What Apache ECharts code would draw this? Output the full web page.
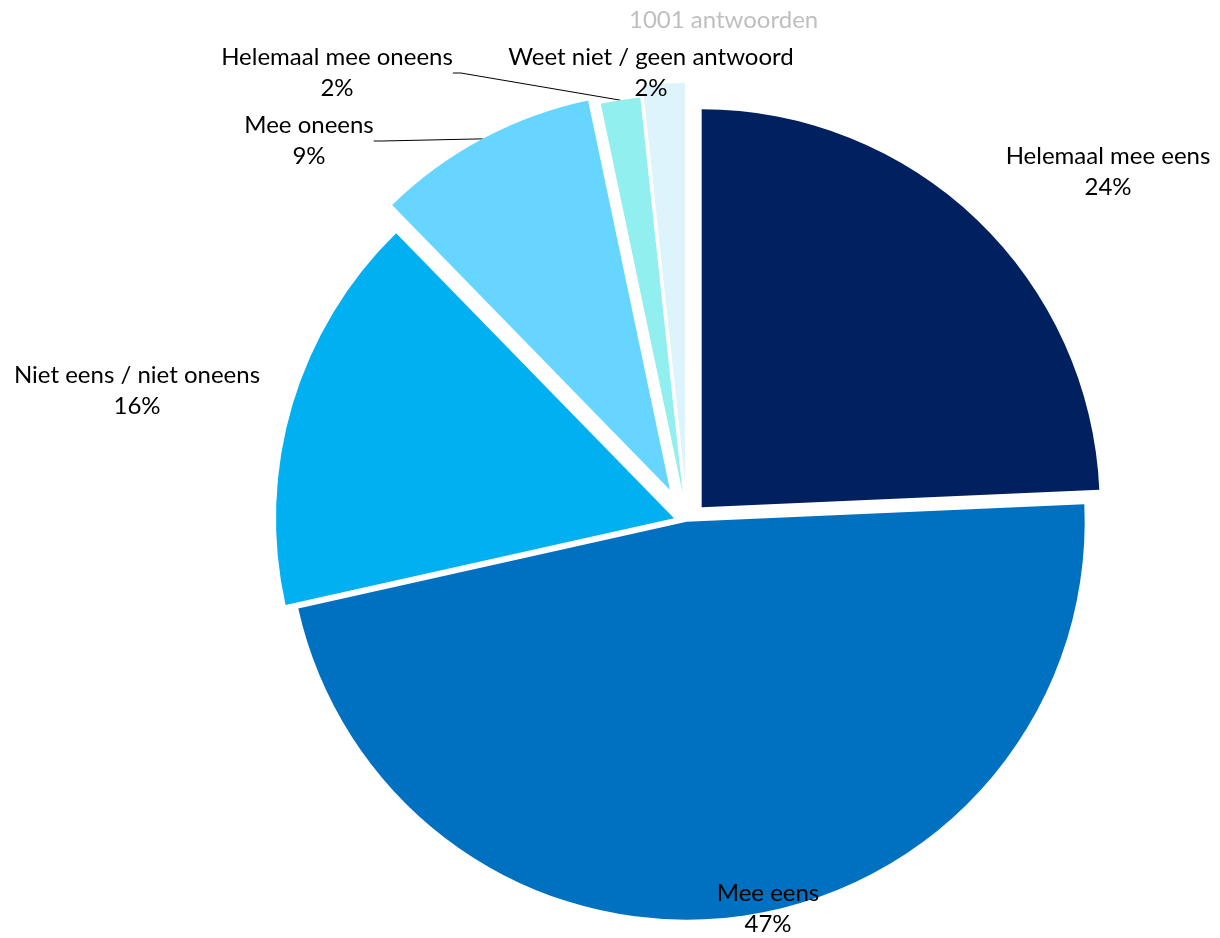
<!DOCTYPE html>
<html><head><meta charset="utf-8">
<script src="https://cdn.jsdelivr.net/npm/echarts@6/dist/echarts.min.js"></script>
<style>html,body{margin:0;padding:0;background:#fff}#c{width:1220px;height:938px}</style>
</head><body><div id="c"></div>
<script>
const categories = ['Helemaal mee eens','Mee eens','Niet eens / niet oneens','Mee oneens','Helemaal mee oneens','Weet niet / geen antwoord'];
const values = [24.3, 47.2, 16.2, 9.0, 1.6, 1.7];
const titleText = '1001 antwoorden';

// styling / layout (not data)
const colors = ['#002060','#0070C0','#00B0F0','#66D5FF','#92EFEF','#DEF4FD'];
const sliceCenters = [[701.7,507.3],[686.7,521.7],[674,518.3],[670,490],[682.7,493.3],[685,481]];
const labelPos = [[1108,172],[768,909],[137,391],[309,141],[337,73],[651,73]];
const showLine = [false,false,false,true,true,false];
const R = 398;
const FONT = 'Lato';

const series = categories.map((name, i) => ({
  type: 'pie',
  center: sliceCenters[i],
  radius: [0, R],
  startAngle: 90,
  clockwise: true,
  avoidLabelOverlap: false,
  silent: true,
  animation: false,
  data: categories.map((n, j) => ({
    name: n,
    value: values[j],
    itemStyle: { color: j === i ? colors[j] : 'rgba(0,0,0,0)' },
    label: { show: j === i },
    labelLine: { show: j === i && showLine[j] }
  })),
  label: {
    show: true,
    position: 'outside',
    formatter: p => p.name + '\n' + Math.round(p.percent) + '%',
    color: '#000',
    fontSize: 24,
    lineHeight: 31,
    fontFamily: FONT
  },
  labelLine: { length: 10, length2: 8, smooth: false, lineStyle: { color: '#000', width: 1 } },
  labelLayout: params => {
    const k = params.dataIndex;
    return { x: labelPos[k][0], y: labelPos[k][1], align: 'center', verticalAlign: 'middle' };
  }
}));

const chart = echarts.init(document.getElementById('c'), null, { renderer: 'canvas' });
chart.setOption({
  backgroundColor: '#fff',
  animation: false,
  title: {
    text: titleText,
    left: 624,
    top: 3,
    textStyle: { color: '#BFBFBF', fontSize: 24, fontWeight: 'normal', fontFamily: FONT }
  },
  series: series
});
</script>
</body></html>
